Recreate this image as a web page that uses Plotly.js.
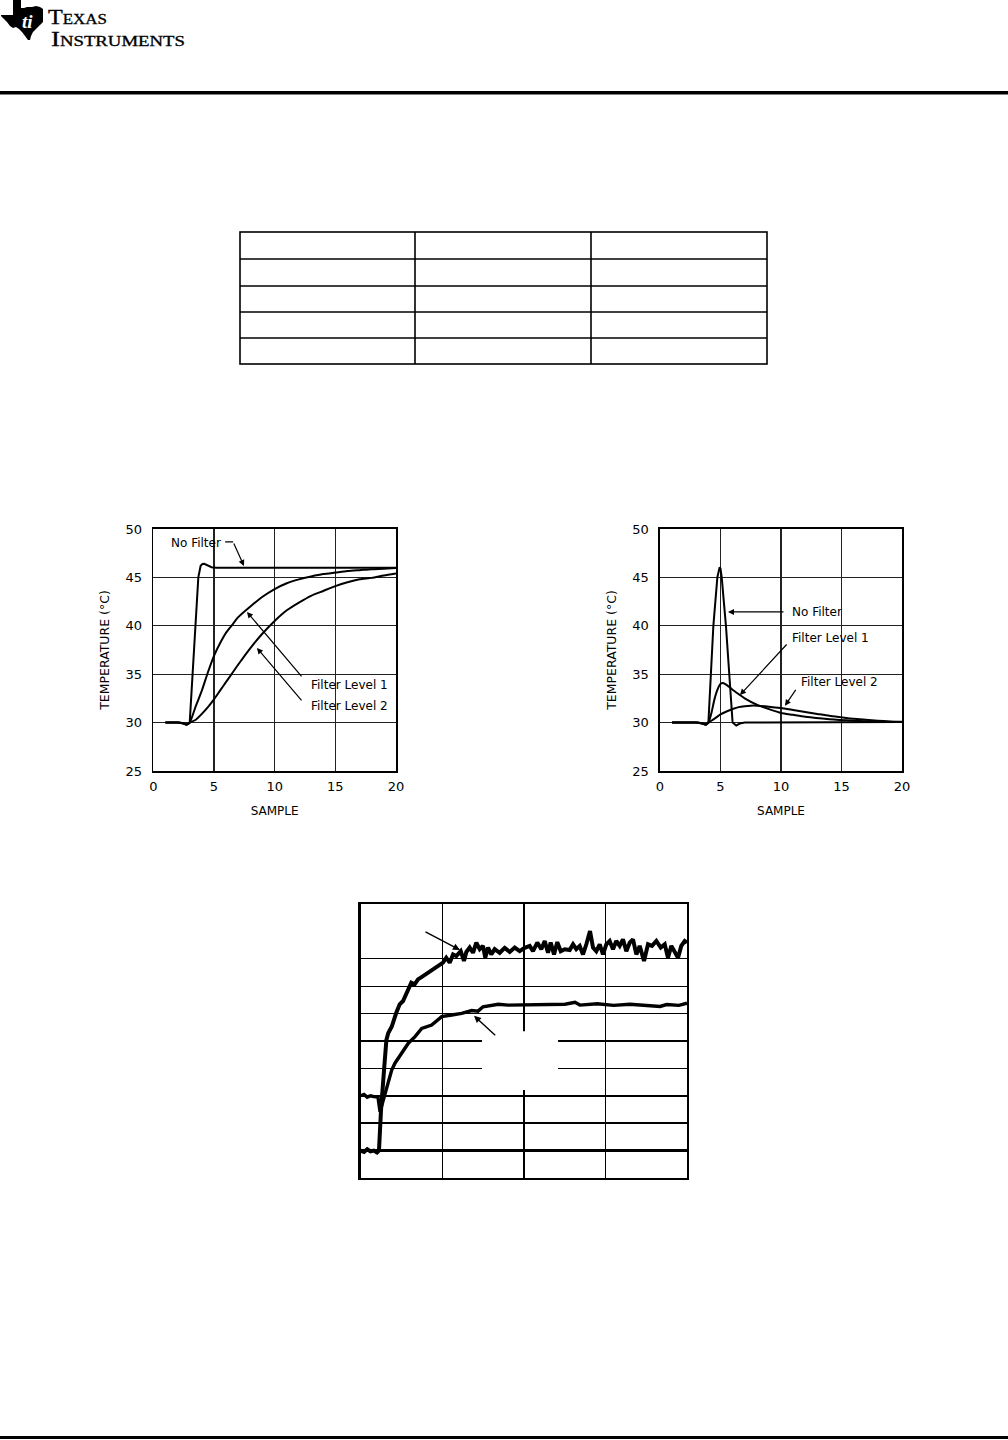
<!DOCTYPE html>
<html>
<head>
<meta charset="utf-8">
<script src="https://cdn.plot.ly/plotly-3.0.1.min.js"></script>
<style>
  html, body { margin: 0; padding: 0; background: #fff; }
  #page { position: relative; width: 1008px; height: 1440px; overflow: hidden; }
  #plot { position: absolute; left: 0; top: 0; width: 1008px; height: 1440px; }
  #deco { position: absolute; left: 0; top: 0; pointer-events: none; }
</style>
</head>
<body>
<div id="page">
  <div id="plot"></div>
  <svg id="deco" width="1008" height="1440" xmlns="http://www.w3.org/2000/svg">
    <!-- TI logo -->
    <polygon fill="#000" points="13,0 21,0 21,8 24,8 27,7 32,7 36,6 40,7 43,9 43,22 40,25 36,29 33,32 31,36 30,40 28,40 25,36 22,32 19,29 16,27 13,28 10,26 7,22 4,19 1,16 1,15 13,15"/>
    <text x="22" y="28" font-family="Liberation Serif" font-style="italic" font-weight="bold" font-size="19" fill="#fff">ti</text>
    <text x="48" y="24" font-family="Liberation Serif" font-size="20" fill="#000" stroke="#000" stroke-width="0.3" style="font-variant: small-caps" textLength="59" lengthAdjust="spacingAndGlyphs">Texas</text>
    <text x="51" y="45.5" font-family="Liberation Serif" font-size="20" fill="#000" stroke="#000" stroke-width="0.3" style="font-variant: small-caps" textLength="134" lengthAdjust="spacingAndGlyphs">Instruments</text>
    <!-- header and footer rules -->
    <rect x="0" y="91" width="1008" height="3.5" fill="#000"/>
    <rect x="0" y="1436" width="1008" height="3" fill="#000"/>
    <!-- empty table -->
    <g stroke="#000" stroke-width="1.6" fill="none">
      <rect x="240" y="232" width="527" height="132"/>
      <line x1="415" y1="232" x2="415" y2="364"/>
      <line x1="591" y1="232" x2="591" y2="364"/>
      <line x1="240" y1="259" x2="767" y2="259"/>
      <line x1="240" y1="286" x2="767" y2="286"/>
      <line x1="240" y1="312" x2="767" y2="312"/>
      <line x1="240" y1="338" x2="767" y2="338"/>
    </g>
  </svg>
</div>
<script>
// ---------- Chart 1: step response ----------
const c1_x_nofilter = [1, 2, 2.5, 2.75, 3, 3.24, 3.44, 3.71, 3.9, 4.05, 4.2, 4.4, 4.6, 4.8, 5.2, 7, 10, 15, 20];
const c1_y_nofilter = [30, 30, 29.9, 29.8, 30, 35, 40, 45, 46.2, 46.38, 46.4, 46.3, 46.15, 46.05, 46.0, 46, 46, 46, 46];

const c1_x_level = [1, 2, 2.5, 2.75, 3, 3.5, 4, 4.5, 5, 5.5, 6, 6.5, 7, 8, 9, 10, 11, 12, 13, 14, 15, 16, 17, 18, 19, 20];
const c1_y_level1 = [30, 30, 29.9, 29.8, 30, 31.7, 33.3, 35.2, 36.9, 38.2, 39.3, 40.1, 40.9, 42.0, 43.0, 43.8, 44.4, 44.8, 45.1, 45.35, 45.5, 45.65, 45.75, 45.85, 45.9, 45.97];
const c1_y_level2 = [30, 30, 29.9, 29.8, 30, 30.3, 30.9, 31.6, 32.4, 33.3, 34.2, 35.1, 36.0, 37.7, 39.2, 40.5, 41.6, 42.4, 43.1, 43.6, 44.1, 44.5, 44.8, 44.95, 45.2, 45.4];

// ---------- Chart 2: impulse response ----------
const c2_x_nofilter = [1, 3, 3.5, 3.8, 4.0, 4.19, 4.41, 4.74, 4.85, 4.93, 5.0, 5.10, 5.45, 5.73, 6.0, 6.3, 6.6, 7, 10, 15, 20];
const c2_y_nofilter = [30, 30, 29.9, 29.8, 30, 35, 40, 45, 45.8, 46.05, 45.9, 45, 40, 35, 30, 29.7, 29.9, 30, 30, 30, 30.05];

const c2_x_level1 = [1, 3, 3.5, 3.8, 4.0, 4.25, 4.5, 4.75, 5.0, 5.2, 5.5, 6, 6.6, 7, 8, 9, 10, 11, 12, 14, 16, 18, 20];
const c2_y_level1 = [30, 30, 29.9, 29.8, 30, 31.0, 32.4, 33.4, 34.0, 34.1, 33.9, 33.4, 32.85, 32.5, 31.85, 31.4, 31.0, 30.8, 30.6, 30.35, 30.2, 30.1, 30.05];

const c2_x_level2 = [1, 3, 3.5, 3.8, 4.0, 4.5, 5.0, 5.5, 6, 6.5, 7, 7.5, 8, 9, 10, 11, 12, 13, 14, 15, 16, 17, 18, 19, 20];
const c2_y_level2 = [30, 30, 29.9, 29.8, 30, 30.4, 30.85, 31.15, 31.4, 31.6, 31.7, 31.75, 31.75, 31.65, 31.5, 31.3, 31.1, 30.9, 30.7, 30.55, 30.4, 30.3, 30.2, 30.12, 30.08];

// ---------- Chart 3: measured (noisy) data, unlabeled axes ----------
const c3_x_upper = [0,4,8,12,16,20,22.4,24.9,28.6,31.5,33.8,38.0,43.6,47.8,51.9,60.1,62.0,66.2,70.2,76.4,82.5,88.6,94.8,100.9,104.9,109.1,113.2,117.2,122.6,126.6,129.5,133.6,137.7,141.7,145.9,149.9,152.7,156.1,160.1,164.3,170.4,176.5,182.7,188.8,194.9,201.0,207.2,211.2,216.5,221.4,225.6,229.6,232.9,237.0,241.0,245.2,250.1,256.2,260.3,264.3,268.5,272.5,276.6,281.1,284.8,288.8,293.0,297.0,301.1,305.2,309.3,313.3,317.5,321.5,325.6,329.8,333.8,337.9,342.0,347.3,352.2,357.1,362.4,367.8,372.7,376.7,380.8,384.9,389.0,393.0,397.2,400];
const c3_y_upper = [1.0,0.95,1.05,0.97,1.0,0.93,1.0,2.48,3.94,5.04,5.29,5.52,6.03,6.34,6.46,6.95,7.13,7.07,7.25,7.37,7.49,7.62,7.74,7.86,8.04,7.86,8.16,8.10,8.28,7.92,8.25,8.41,8.22,8.59,8.35,8.47,8.04,8.41,8.16,8.35,8.22,8.40,8.25,8.41,8.28,8.40,8.47,8.28,8.59,8.35,8.65,8.22,8.59,8.16,8.61,8.28,8.35,8.32,8.53,8.35,8.47,8.16,8.53,9.01,8.41,8.28,8.53,8.16,8.53,8.65,8.35,8.65,8.47,8.71,8.28,8.59,8.71,8.16,8.47,7.92,8.53,8.47,8.65,8.41,8.53,8.04,8.47,8.22,8.04,8.47,8.65,8.59];

const c3_x_lower = [0,4,8,12,16,21.2,23.7,27.7,31,33.8,38,42,50.3,58.4,66.6,74.8,87,99.3,111.6,123.8,136.1,143.8,149.9,160.6,168.7,180.9,197.4,209.6,230,250.5,262.7,268.8,290,310,330,350,367,375,390,400];
const c3_y_lower = [3.0,3.05,2.95,3.0,2.97,2.95,2.42,2.85,3.28,3.58,3.94,4.19,4.55,4.92,5.16,5.46,5.58,5.89,5.95,6.01,6.11,6.09,6.25,6.31,6.34,6.31,6.31,6.34,6.31,6.34,6.41,6.31,6.36,6.30,6.34,6.31,6.26,6.33,6.30,6.38];

// ---------- tick labels ----------
const sampleTicks = [0, 5, 10, 15, 20];
const tempTicks = [25, 30, 35, 40, 45, 50];

const FONT = 'DejaVu Sans';
const black = '#000';

function lineTrace(x, y, xa, ya, width, shape) {
  return { x: x, y: y, xaxis: xa, yaxis: ya, type: 'scatter', mode: 'lines',
           line: { color: black, width: width, shape: shape || 'linear', smoothing: 0.6 },
           hoverinfo: 'skip', showlegend: false };
}

const traces = [
  lineTrace(c1_x_nofilter, c1_y_nofilter, 'x', 'y', 2),
  lineTrace(c1_x_level, c1_y_level1, 'x', 'y', 2, 'spline'),
  lineTrace(c1_x_level, c1_y_level2, 'x', 'y', 2, 'spline'),
  lineTrace(c2_x_nofilter, c2_y_nofilter, 'x2', 'y2', 2),
  lineTrace(c2_x_level1, c2_y_level1, 'x2', 'y2', 2, 'spline'),
  lineTrace(c2_x_level2, c2_y_level2, 'x2', 'y2', 2, 'spline'),
  lineTrace(c3_x_upper, c3_y_upper, 'x3', 'y3', 4),
  lineTrace(c3_x_lower, c3_y_lower, 'x3', 'y3', 3.4)
];

function sampleAxis(domain, anchor) {
  return {
    domain: domain, anchor: anchor, range: [0, 20],
    tickmode: 'array', tickvals: sampleTicks, ticktext: sampleTicks.map(String),
    ticks: '', ticklabelstandoff: 3,
    tickfont: { family: FONT, size: 13, color: black },
    showgrid: true, gridcolor: '#222', gridwidth: 1.3,
    zeroline: false, showline: true, mirror: true, linecolor: black, linewidth: 1.6,
    title: { text: 'SAMPLE', font: { family: FONT, size: 12, color: black }, standoff: 13 }
  };
}
function tempAxis(domain, anchor) {
  return {
    domain: domain, anchor: anchor, range: [25, 50],
    tickmode: 'array', tickvals: tempTicks, ticktext: tempTicks.map(String),
    ticks: '', ticklabelstandoff: 7,
    tickfont: { family: FONT, size: 13, color: black },
    showgrid: true, gridcolor: '#222', gridwidth: 1.3,
    zeroline: false, showline: true, mirror: true, linecolor: black, linewidth: 1.6,
    title: { text: 'TEMPERATURE (°C)', font: { family: FONT, size: 12.5, color: black }, standoff: 13 }
  };
}

const yDom12 = [1 - 771/1440, 1 - 529/1440];
const yDom3 = [1 - 1178/1440, 1 - 904/1440];

function label(text, xref, yref, x, y) {
  return { text: text, xref: xref, yref: yref, x: x, y: y, xanchor: 'left', yanchor: 'middle',
           showarrow: false, font: { family: FONT, size: 12, color: black } };
}
function arrow(xref, yref, ax, ay, x, y, w) {
  return { text: '', xref: xref, yref: yref, axref: xref, ayref: yref, x: x, y: y, ax: ax, ay: ay,
           showarrow: true, arrowhead: 2, arrowsize: 1, arrowwidth: w || 1.2, arrowcolor: black, standoff: 0, startstandoff: 0 };
}

const layout = {
  width: 1008, height: 1440,
  margin: { l: 0, r: 0, t: 0, b: 0 },
  paper_bgcolor: '#fff', plot_bgcolor: 'rgba(0,0,0,0)',
  showlegend: false,
  xaxis: sampleAxis([153.3/1008, 396/1008], 'y'),
  yaxis: tempAxis(yDom12, 'x'),
  xaxis2: sampleAxis([660/1008, 902/1008], 'y2'),
  yaxis2: tempAxis(yDom12, 'x2'),
  xaxis3: {
    domain: [360.7/1008, 687/1008], anchor: 'y3', range: [0, 400],
    tickmode: 'array', tickvals: [100, 200, 300], showticklabels: false, ticks: '',
    showgrid: true, gridcolor: black, gridwidth: 1.4,
    zeroline: false, showline: true, mirror: true, linecolor: black, linewidth: 2.4
  },
  yaxis3: {
    domain: yDom3, anchor: 'x3', range: [0, 10],
    tickmode: 'array', tickvals: [4, 5, 6, 7, 8], showticklabels: false, ticks: '',
    showgrid: true, gridcolor: black, gridwidth: 1.4,
    minor: { tickmode: 'array', tickvals: [1, 2, 3], showgrid: true, gridcolor: black, gridwidth: 2.4, ticks: '' },
    zeroline: false, showline: true, mirror: true, linecolor: black, linewidth: 2.4
  },
  yaxis4: {
    overlaying: 'y3', anchor: 'x3', side: 'left', range: [0, 10],
    tickmode: 'array', tickvals: [9], ticks: 'inside', ticklen: 6, tickwidth: 1.6, tickcolor: black,
    showticklabels: false, showgrid: false, zeroline: false, showline: false
  },
  shapes: [
    { type: 'line', xref: 'x', yref: 'y', x0: 5.92, y0: 48.66, x1: 6.58, y1: 48.66, line: { color: black, width: 1.2 } },
    { type: 'rect', xref: 'x3', yref: 'y3', x0: 148.7, x1: 241.9, y0: 3.21, y1: 5.36,
      fillcolor: '#fff', line: { width: 0 }, layer: 'between' }
  ],
  annotations: [
    label('No Filter', 'x', 'y', 1.29, 48.6),
    arrow('x', 'y', 6.58, 48.66, 7.47, 46.18),
    label('Filter Level 1', 'x', 'y', 12.83, 33.88),
    label('Filter Level 2', 'x', 'y', 12.83, 31.71),
    arrow('x', 'y', 12.32, 34.61, 7.72, 41.43),
    arrow('x', 'y', 12.32, 32.13, 8.54, 37.71),

    label('No Filter', 'x2', 'y2', 10.74, 41.43),
    arrow('x2', 'y2', 10.33, 41.43, 5.62, 41.43),
    label('Filter Level 1', 'x2', 'y2', 10.74, 38.74),
    arrow('x2', 'y2', 10.58, 38.22, 6.61, 32.85),
    label('Filter Level 2', 'x2', 'y2', 11.49, 34.19),
    arrow('x2', 'y2', 11.30, 33.54, 10.33, 31.75),

    arrow('x3', 'y3', 77.6, 9.01, 121.7, 8.32, 1.4),
    arrow('x3', 'y3', 166.7, 5.16, 138.9, 5.92, 1.4)
  ]
};

Plotly.newPlot('plot', traces, layout, { staticPlot: true, displayModeBar: false });
</script>
</body>
</html>
